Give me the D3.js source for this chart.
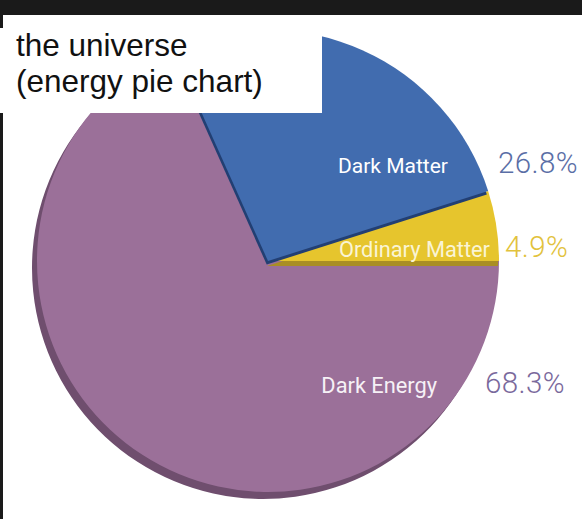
<!DOCTYPE html>
<html>
<head>
<meta charset="utf-8">
<script src="https://cdn.jsdelivr.net/npm/d3@7"></script>
<style>
  html, body { margin: 0; padding: 0; background: #ffffff; }
  svg { display: block; }
</style>
</head>
<body>
<svg id="chart" width="582" height="519"></svg>
<script>
// Energy budget of the universe
const components = ["Dark Energy", "Dark Matter", "Ordinary Matter"];
const shares = [68.3, 26.8, 4.9];
const titleLines = ["the universe", "(energy pie chart)"];

// Styling per component
const fills      = ["#9b7099", "#416caf", "#e6c52d"];
const sideFills  = ["#6f4e6e", "#223f73", "#a98e24"];
const nameFills  = ["#f6f1f6", "#ffffff", "#faf4d4"];
const valueFills = ["#7a699c", "#5a6ea6", "#e2c23c"];
const sideOffset = [[-5, 7], [-1.3, 3.5], [-1, 5]];   // extruded edge of each slice
const drawOrder  = [0, 2, 1];                          // back to front
// label rows, in units of the radius from the pie centre
const labelRow   = [0.571, -0.381, -0.017];
const nameEnd    = [0.732, 0.779, 0.961];
const valueStart = [0.939, 0.996, 1.026];

const W = 582, H = 519;
const cx = 268, cy = 261, R = 231;

const svg = d3.select("#chart");
svg.append("rect").attr("width", W).attr("height", H).attr("fill", "#ffffff");

const pie = d3.pie().sort(null)
  .startAngle(Math.PI / 2)
  .endAngle(Math.PI / 2 + 2 * Math.PI);
const slices = pie(shares);
const arc = d3.arc().innerRadius(0).outerRadius(R);

const g = svg.append("g").attr("transform", `translate(${cx},${cy})`);

drawOrder.forEach(i => {
  const s = slices[i];
  g.append("path")
    .attr("d", arc(s))
    .attr("transform", `translate(${sideOffset[i][0]},${sideOffset[i][1]})`)
    .attr("fill", sideFills[i]);
  g.append("path")
    .attr("d", arc(s))
    .attr("fill", fills[i]);
});

const fmt = d3.format(".1f");
const labels = svg.append("g").attr("font-family", "Roboto, 'DejaVu Sans', sans-serif");

components.forEach((name, i) => {
  const y = cy + R * labelRow[i];
  labels.append("text")
    .attr("x", cx + R * nameEnd[i])
    .attr("y", y)
    .attr("text-anchor", "end")
    .attr("font-size", i === 1 ? 21 : 21.8)
    .attr("fill", nameFills[i])
    .text(name);
  labels.append("text")
    .attr("x", cx + R * valueStart[i])
    .attr("y", y)
    .attr("text-anchor", "start")
    .attr("font-size", 29.5)
    .attr("font-weight", 300)
    .attr("letter-spacing", 0.4)
    .attr("fill", valueFills[i])
    .text(fmt(shares[i]) + "%");
});

// dark frame along the top and left edges
svg.append("rect").attr("x", 0).attr("y", 0).attr("width", W).attr("height", 15).attr("fill", "#1a1a1a");
svg.append("rect").attr("x", 0).attr("y", 0).attr("width", 3).attr("height", H).attr("fill", "#1a1a1a");

// title panel
svg.append("rect").attr("x", 0).attr("y", 28).attr("width", 322).attr("height", 85).attr("fill", "#ffffff");
const title = svg.append("text")
  .attr("font-family", "'Liberation Sans', Arial, sans-serif")
  .attr("font-size", 31.5)
  .attr("fill", "#111111");
titleLines.forEach((t, k) => {
  title.append("tspan").attr("x", 16).attr("y", 56 + k * 36).text(t);
});
</script>
</body>
</html>
